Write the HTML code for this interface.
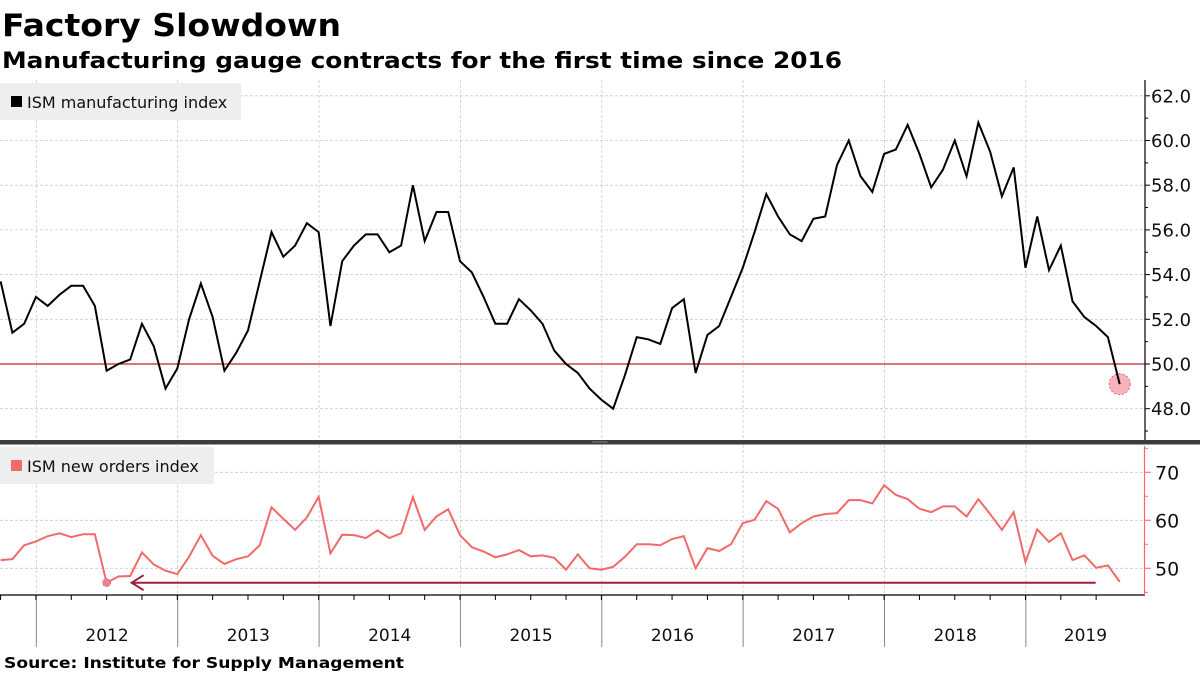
<!DOCTYPE html>
<html><head><meta charset="utf-8"><style>
html,body{margin:0;padding:0;background:#fff;}
svg{display:block;font-family:"DejaVu Sans","Liberation Sans",sans-serif;}
</style></head><body>
<svg id="chart" width="1200" height="675" viewBox="0 0 1200 675" xmlns="http://www.w3.org/2000/svg">
<text x="2" y="36" font-size="31" font-weight="bold" textLength="339" lengthAdjust="spacingAndGlyphs">Factory Slowdown</text>
<text x="2" y="68" font-size="22" font-weight="bold" textLength="840" lengthAdjust="spacingAndGlyphs">Manufacturing gauge contracts for the first time since 2016</text>
<g id="grid"></g>
<rect x="0" y="440" width="1200" height="4.5" fill="#3c3c3c"/>
<line x1="592" y1="442" x2="608" y2="442" stroke="#999" stroke-width="0.8"/>
<line x1="0" y1="364" x2="1145" y2="364" stroke="#c0202a" stroke-width="1.2"/>
<g id="marks"></g>
<rect x="0" y="83" width="241" height="37" fill="#eee"/>
<rect x="11" y="96" width="11" height="11" fill="#000"/>
<text x="27" y="108" font-size="16" fill="#111">ISM manufacturing index</text>
<rect x="0" y="447" width="214" height="37" fill="#eee"/>
<rect x="11" y="460" width="11" height="11" fill="#f06a6a"/>
<text x="27" y="472" font-size="16" fill="#111">ISM new orders index</text>
<text x="4" y="668" font-size="15.5" font-weight="bold" textLength="400" lengthAdjust="spacingAndGlyphs">Source: Institute for Supply Management</text>
</svg>
<script>
const months = 96; // Sep 2011 .. Aug 2019
const ismValues = [53.7,51.4,51.8,53.0,52.6,53.1,53.5,53.5,52.6,49.7,50.0,50.2,51.8,50.8,48.9,49.8,52.0,53.6,52.1,49.7,50.5,51.5,53.7,55.9,54.8,55.3,56.3,55.9,51.7,54.6,55.3,55.8,55.8,55.0,55.3,58.0,55.5,56.8,56.8,54.6,54.1,53.0,51.8,51.8,52.9,52.4,51.8,50.6,50.0,49.6,48.9,48.4,48.0,49.5,51.2,51.1,50.9,52.5,52.9,49.6,51.3,51.7,53.0,54.3,55.9,57.6,56.6,55.8,55.5,56.5,56.6,58.9,60.0,58.4,57.7,59.4,59.6,60.7,59.4,57.9,58.7,60.0,58.4,60.8,59.5,57.5,58.8,54.3,56.6,54.2,55.3,52.8,52.1,51.7,51.2,49.1];
const newOrdersValues = [51.7,51.9,54.8,55.6,56.7,57.3,56.5,57.1,57.1,47.0,48.3,48.4,53.3,50.8,49.5,48.8,52.4,56.9,52.6,50.9,51.9,52.5,54.8,62.7,60.3,58.0,60.6,64.9,53.1,57.0,56.9,56.3,57.9,56.3,57.3,64.8,58.0,60.8,62.3,56.9,54.4,53.5,52.3,52.9,53.8,52.5,52.7,52.2,49.7,52.9,50.0,49.7,50.3,52.4,55.0,55.0,54.8,56.1,56.7,50.0,54.2,53.6,55.0,59.4,60.1,64.0,62.4,57.5,59.4,60.8,61.3,61.5,64.2,64.2,63.5,67.3,65.3,64.4,62.4,61.7,62.9,62.9,60.8,64.4,61.3,58.0,61.7,51.3,58.1,55.5,57.3,51.7,52.7,50.1,50.6,47.2];
const years = ["2012","2013","2014","2015","2016","2017","2018","2019"];
const topTicks = [48,50,52,54,56,58,60,62];
const bottomTicks = [50,60,70];

const NS="http://www.w3.org/2000/svg";
const svg=document.getElementById('chart');
const grid=document.getElementById('grid');
const marks=document.getElementById('marks');
const step=11.78;
function xScale(i){return 0.6+i*step;}
function yearX(k){return xScale(3+12*k)+0.4;}
function yTop(v){return 364-(v-50)*22.35;}
function yBot(v){return 568.3-(v-50)*4.8;}
function mk(tag,attrs,parent){const e=document.createElementNS(NS,tag);for(const k in attrs)e.setAttribute(k,attrs[k]);(parent||svg).appendChild(e);return e;}

topTicks.forEach(t=>{const l=mk('line',{x1:0,x2:1145,y1:yTop(t),y2:yTop(t),stroke:'#ccc','stroke-dasharray':'3,2','stroke-width':0.8},grid);

});
bottomTicks.forEach(t=>{const l=mk('line',{x1:0,x2:1145,y1:yBot(t),y2:yBot(t),stroke:'#ccc','stroke-dasharray':'3,2','stroke-width':0.8},grid);

});
for(let k=0;k<years.length;k++){
  const x=yearX(k);
  const g1=mk('line',{x1:x,x2:x,y1:80,y2:440,stroke:'#ccc','stroke-dasharray':'3,2','stroke-width':0.8},grid);
  
  
  const g2=mk('line',{x1:x,x2:x,y1:445,y2:595,stroke:'#ccc','stroke-dasharray':'3,2','stroke-width':0.8},grid);
  
  
  const s=mk('line',{x1:x,x2:x,y1:595,y2:647,stroke:'#888','stroke-width':1});
  
  
  const nx=k<years.length-1?yearX(k+1):1145;
  const lbl=mk('text',{x:(x+nx)/2,y:641,'font-size':17,'text-anchor':'middle',fill:'#111'});
  lbl.textContent=years[k];
  
  
}
const xa=mk('line',{x1:0,x2:1145,y1:595,y2:595,stroke:'#000','stroke-width':1.2});


for(let i=0;i<months;i+=3){const x=xScale(i);
  const t=mk('line',{x1:x,x2:x,y1:595,y2:600,stroke:'#000','stroke-width':1});
  
  }
const ya=mk('line',{x1:1145,x2:1145,y1:80,y2:440,stroke:'#000','stroke-width':1.2});


for(let v=47;v<=62;v++){const y=yTop(v);
  const t=mk('line',{x1:1145,x2:v%2===0?1150:1148,y1:y,y2:y,stroke:'#000','stroke-width':1});
  
  }
topTicks.forEach(t=>{const e=mk('text',{x:1151,y:yTop(t)+6.5,'font-size':18,fill:'#111'});e.textContent=t.toFixed(1);
  
  });
const yb=mk('line',{x1:1144.5,x2:1144.5,y1:446,y2:595,stroke:'#f66','stroke-width':1.2});


for(let v=45;v<=75;v+=5){const y=yBot(v);
  const t=mk('line',{x1:1144.5,x2:v%10===0?1151:1148,y1:y,y2:y,stroke:'#f66','stroke-width':1});
  
  }
bottomTicks.forEach(t=>{const e=mk('text',{x:1155,y:yBot(t)+7,'font-size':19,fill:'#111'});e.textContent=t;
  
  });

const p1=mk('polyline',{points:ismValues.map((v,i)=>xScale(i)+','+yTop(v)).join(' '),fill:'none',stroke:'#000','stroke-width':2,'stroke-linejoin':'miter'},marks);


const last=months-1;
const c1=mk('circle',{cx:xScale(last),cy:yTop(ismValues[last]),r:10.5,fill:'#f8a5b0','fill-opacity':0.85,stroke:'#d05060','stroke-width':0.8,'stroke-dasharray':'2,2'},marks);


marks.insertBefore(c1,p1);
const minIdx=9;
const ay=yBot(newOrdersValues[minIdx]);
const ar=mk('line',{x1:xScale(minIdx)+25,x2:xScale(last)-24,y1:ay,y2:ay,stroke:'#a0203a','stroke-width':2},marks);


const ah=mk('polyline',{points:(xScale(minIdx)+37)+','+(ay-7.5)+' '+(xScale(minIdx)+25)+','+ay+' '+(xScale(minIdx)+37)+','+(ay+7.5),fill:'none',stroke:'#a0203a','stroke-width':2},marks);


const p2=mk('polyline',{points:newOrdersValues.map((v,i)=>xScale(i)+','+yBot(v)).join(' '),fill:'none',stroke:'#f06a6a','stroke-width':2},marks);


const c2=mk('circle',{cx:xScale(minIdx),cy:yBot(newOrdersValues[minIdx]),r:4,fill:'#f08090',stroke:'#c04050','stroke-width':0.6,'stroke-dasharray':'1.5,1.5'},marks);


</script>
</body></html>
